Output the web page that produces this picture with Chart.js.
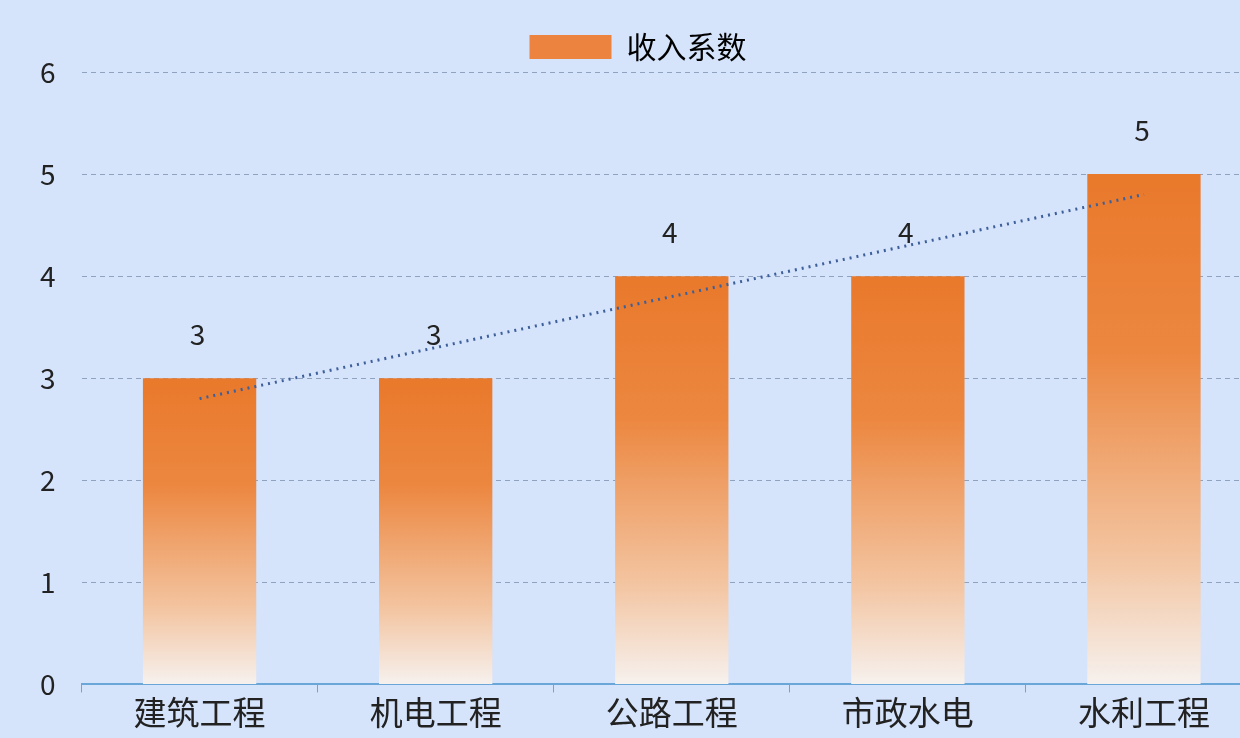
<!DOCTYPE html>
<html><head><meta charset="utf-8">
<script src="https://cdn.jsdelivr.net/npm/chart.js@4/dist/chart.umd.min.js"></script>
<style>html,body{margin:0;padding:0;overflow:hidden;background:#d5e3fb;}#w{width:1262px;height:738px;}</style>
</head><body><div id="w"><canvas id="c"></canvas></div>
<script>
const categories=['建筑工程','机电工程','公路工程','市政水电','水利工程'];
const values=[3,3,4,4,5];
const trend=[2.8,3.3,3.8,4.3,4.8];
const yTicks=[0,1,2,3,4,5,6];
const F='"Noto Sans CJK SC","Noto Sans",sans-serif';
function grad(ctx){
  const c=ctx.chart; const {ctx:g,chartArea,scales}=c;
  if(!chartArea) return '#e87b2a';
  const v=ctx.raw==null?5:ctx.raw;
  const top=scales.y.getPixelForValue(v), bot=scales.y.getPixelForValue(0);
  const gr=g.createLinearGradient(0,top,0,bot);
  gr.addColorStop(0,'#e9792b');gr.addColorStop(0.35,'#ec8740');gr.addColorStop(0.75,'#f3c4a0');gr.addColorStop(1,'#f6f1ee');
  return gr;
}
const labelPlugin={id:'lbl',afterDatasetsDraw(c){
  const m=c.getDatasetMeta(0),g=c.ctx;g.save();g.font='28px '+F;g.fillStyle='#222';g.textAlign='center';g.textBaseline='bottom';
  m.data.forEach((b,i)=>g.fillText(values[i],b.x-2,b.y-30));g.restore();}};
new Chart(document.getElementById('c'),{
  data:{labels:categories,datasets:[
    {type:'bar',label:'收入系数',data:values,backgroundColor:grad,barPercentage:0.48,categoryPercentage:1,order:2},
    {type:'line',label:'trend',data:trend,borderColor:'#3d5f9a',borderWidth:3,borderDash:[2,5],pointRadius:0,fill:false,order:1}
  ]},
  options:{responsive:true,maintainAspectRatio:false,animation:false,
    layout:{padding:{top:18,left:14,right:0,bottom:6}},
    plugins:{legend:{labels:{font:{size:30,family:F},color:'#222',boxWidth:82,boxHeight:24,padding:14,
      generateLabels:ch=>[{text:'收入系数',fillStyle:'#ec8440',strokeStyle:'#ec8440',lineWidth:0,datasetIndex:0}]}},tooltip:{enabled:false}},
    scales:{
      x:{grid:{display:true,drawOnChartArea:false,offset:true,color:'#6aa6d8',tickLength:8},border:{color:'#6aa6d8',width:2},ticks:{font:{size:33,family:F},color:'#222',padding:0}},
      y:{min:0,max:6,afterBuildTicks:a=>{a.ticks=yTicks.map(v=>({value:v}));},
        grid:{color:'#8fa3c0',lineWidth:1,drawTicks:false},border:{display:false,dash:[5,4]},
        ticks:{font:{size:28,family:F},color:'#222',padding:26}}
    }},
  plugins:[labelPlugin]
});
</script></body></html>
